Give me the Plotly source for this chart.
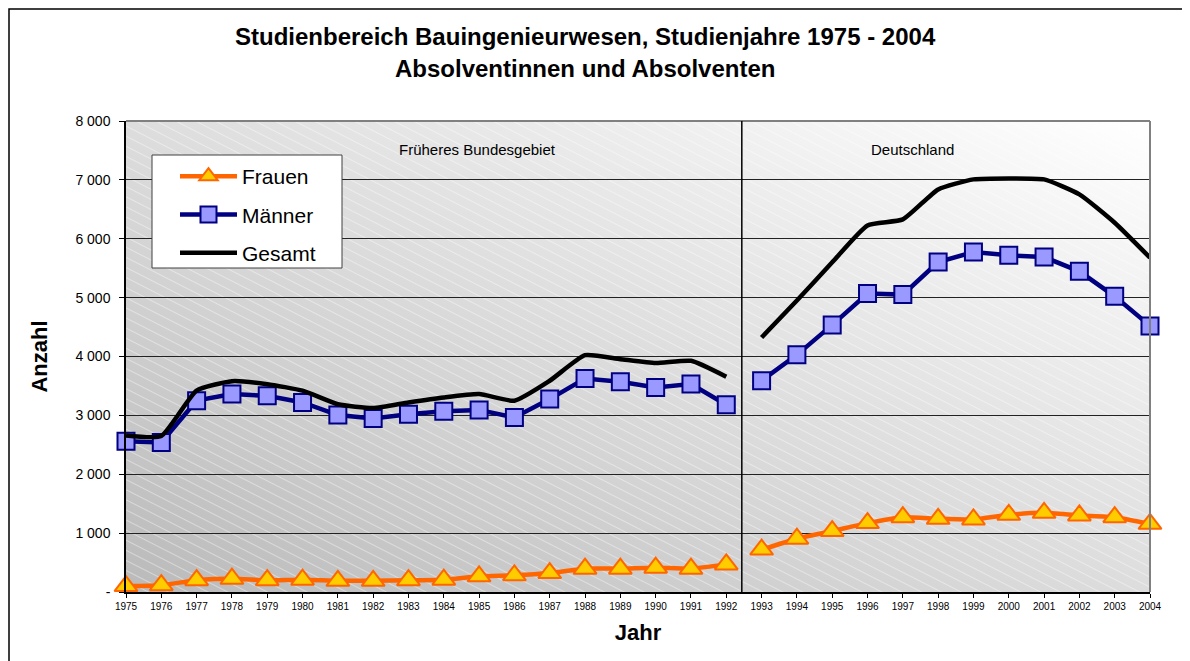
import base64
import plotly.graph_objects as go

# ---------------- data ----------------
years = list(range(1975, 2005))
frauen = [100, 115, 200, 225, 200, 210, 190, 190, 200, 210, 266, 283, 322, 397, 397, 413, 397, 469,
          720, 905, 1034, 1170, 1271, 1243, 1232, 1311, 1345, 1300, 1271, 1158]
maenner = [2560, 2540, 3250, 3362, 3333, 3220, 3006, 2949, 3020, 3068, 3090, 2966, 3277, 3627, 3571, 3475, 3532, 3181,
           3590, 4028, 4537, 5068, 5051, 5604, 5774, 5718, 5689, 5447, 5022, 4520]
gesamt = [2660, 2650, 3420, 3580, 3530, 3420, 3190, 3125, 3220, 3305, 3362, 3249, 3588, 4023, 3955, 3888, 3927, 3656,
          4322, 4950, 5600, 6227, 6329, 6838, 7008, 7025, 7008, 6753, 6272, 5678]
last_old_year = 1992  # Früheres Bundesgebiet up to 1992, then Deutschland
y_ticks = [0, 1000, 2000, 3000, 4000, 5000, 6000, 7000, 8000]
y_ticktext = ["-", "1 000", "2 000", "3 000", "4 000", "5 000", "6 000", "7 000", "8 000"]
region_labels = ["Früheres Bundesgebiet", "Deutschland"]

FONT = "Arial, 'Liberation Sans', sans-serif"

# page has an 8px body margin; figure is placed at (8, 8)
OFF = 8
W, H = 1190 - OFF, 661 - OFF
PL, PR, PT, PB = 126, 1150, 121, 592  # plot area in page pixels
PW, PH = PR - PL, PB - PT


def px(xp):
    return (xp - PL) / PW


def py(yp):
    return (PB - yp) / PH


def with_gap(xs, ys, split):
    """Insert a gap between the two territorial periods."""
    ox, oy = [], []
    for x, y in zip(xs, ys):
        if x == split + 1:
            ox.append(split + 0.5)
            oy.append(None)
        ox.append(x)
        oy.append(y)
    return ox, oy


# ---------------- background (gradient + hatch) ----------------
svg = """<svg xmlns='http://www.w3.org/2000/svg' width='1024' height='471' viewBox='0 0 1024 471' preserveAspectRatio='none'>
<defs>
<linearGradient id='g' x1='0' y1='1' x2='1' y2='0'>
<stop offset='0' stop-color='#bababa'/>
<stop offset='0.5' stop-color='#dddddd'/>
<stop offset='1' stop-color='#ffffff'/>
</linearGradient>
<pattern id='p' width='40' height='9' patternUnits='userSpaceOnUse' patternTransform='rotate(27)'>
<line x1='0' y1='4.5' x2='40' y2='4.5' stroke='#ffffff' stroke-opacity='0.5' stroke-width='0.8'/>
</pattern>
</defs>
<rect width='1024' height='471' fill='url(#g)'/>
<rect width='1024' height='471' fill='url(#p)'/>
</svg>"""
bg_src = "data:image/svg+xml;base64," + base64.b64encode(svg.encode("utf-8")).decode("ascii")

fig = go.Figure()

xf, yf = with_gap(years, frauen, last_old_year)
xm, ym = with_gap(years, maenner, last_old_year)
xg, yg = with_gap(years, gesamt, last_old_year)

fig.add_trace(go.Scatter(
    x=xf, y=yf, name="Frauen", mode="lines+markers", legendgroup="f",
    line=dict(color="#FF6600", width=4.5, shape="spline", smoothing=0.5),
    marker=dict(symbol="triangle-up", size=20, color="#FFCC00", line=dict(color="#FF6600", width=2)),
    cliponaxis=False, connectgaps=False))
fig.add_trace(go.Scatter(
    x=xm, y=ym, name="Männer", mode="lines+markers", legendgroup="m",
    line=dict(color="#000080", width=4.5),
    marker=dict(symbol="square", size=17, color="#9999FF", line=dict(color="#000080", width=2)),
    cliponaxis=False, connectgaps=False))
fig.add_trace(go.Scatter(
    x=xg, y=yg, name="Gesamt", mode="lines", legendgroup="g",
    line=dict(color="#000000", width=4.5, shape="spline", smoothing=0.5),
    cliponaxis=False, connectgaps=False))

divider_x = last_old_year + 0.44

fig.update_layout(
    width=W, height=H,
    margin=dict(l=PL - OFF, r=W - (PR - OFF), t=PT - OFF, b=H - (PB - OFF)),
    paper_bgcolor="white", plot_bgcolor="#dcdcdc",
    font=dict(family=FONT, color="black"),
    showlegend=True,
    legend=dict(
        x=px(175), y=py(156), xanchor="left", yanchor="top",
        bgcolor="rgba(0,0,0,0)", borderwidth=0,
        font=dict(size=21, family=FONT), itemwidth=57, tracegroupgap=8,
    ),
    xaxis=dict(
        range=[1975, 2004], tickmode="array", tickvals=years, ticktext=[str(y) for y in years],
        tickfont=dict(size=10, family=FONT), ticks="outside", ticklen=4, tickcolor="black",
        showgrid=False, zeroline=False, showline=True, linecolor="black", linewidth=1.5,
        title=dict(text="<b>Jahr</b>", font=dict(size=22, family=FONT), standoff=14),
    ),
    yaxis=dict(
        range=[0, 8000], tickmode="array", tickvals=y_ticks, ticktext=y_ticktext,
        tickfont=dict(size=14, family=FONT), ticks="outside", ticklen=5, tickcolor="black",
        showgrid=True, gridcolor="#222222", gridwidth=1, zeroline=False,
        showline=True, linecolor="black", linewidth=1.5, ticklabelstandoff=6,
        title=dict(text="<b>Anzahl</b>", font=dict(size=22, family=FONT), standoff=22),
    ),
    images=[dict(source=bg_src, xref="paper", yref="paper", x=0, y=1, sizex=1, sizey=1,
                 xanchor="left", yanchor="top", sizing="stretch", layer="below")],
    shapes=[
        # plot border top and right (grey)
        dict(type="line", xref="paper", yref="paper", x0=0, x1=1, y0=1, y1=1,
             line=dict(color="#808080", width=2)),
        dict(type="line", xref="paper", yref="paper", x0=1, x1=1, y0=0, y1=1,
             line=dict(color="#808080", width=2)),
        # divider between periods
        dict(type="line", xref="x", yref="y", x0=divider_x, x1=divider_x, y0=0, y1=8100,
             line=dict(color="black", width=1.5)),
        # legend box
        dict(type="rect", xref="paper", yref="paper", x0=px(152), x1=px(342), y0=py(268), y1=py(155),
             line=dict(color="#404040", width=1), fillcolor="white", layer="above"),
        # outer chart frame
        dict(type="rect", xref="paper", yref="paper", x0=px(9), x1=px(1200), y0=py(670), y1=py(9),
             line=dict(color="black", width=1.5), fillcolor="rgba(0,0,0,0)", layer="above"),
    ],
    annotations=[
        dict(text="<b>Studienbereich Bauingenieurwesen, Studienjahre 1975 - 2004</b>",
             xref="paper", yref="paper", x=px(585), y=py(36),
             xanchor="center", yanchor="middle", showarrow=False, font=dict(size=24, family=FONT)),
        dict(text="<b>Absolventinnen und Absolventen</b>",
             xref="paper", yref="paper", x=px(585), y=py(68),
             xanchor="center", yanchor="middle", showarrow=False, font=dict(size=24, family=FONT)),
        dict(text=region_labels[0], xref="paper", yref="paper", x=px(477), y=py(149),
             xanchor="center", yanchor="middle", showarrow=False, font=dict(size=15, family=FONT)),
        dict(text=region_labels[1], xref="paper", yref="paper", x=px(912), y=py(149),
             xanchor="center", yanchor="middle", showarrow=False, font=dict(size=15, family=FONT)),
    ],
)

fig.write_html("out.html")
